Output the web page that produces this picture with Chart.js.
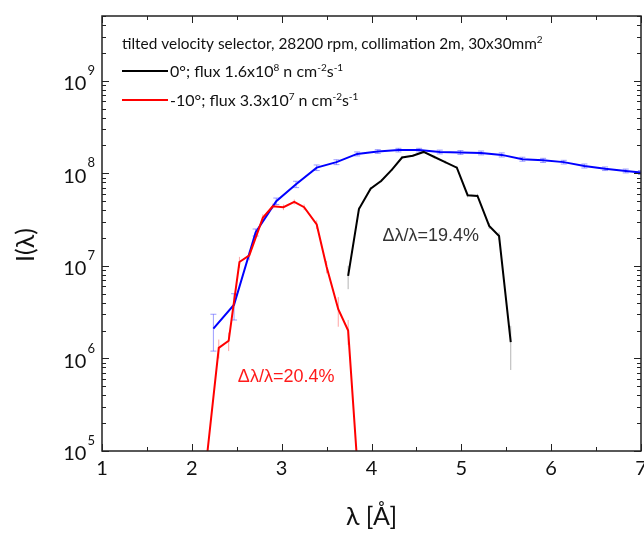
<!DOCTYPE html>
<html>
<head>
<meta charset="utf-8">
<script src="https://cdn.jsdelivr.net/npm/chart.js@4.4.1/dist/chart.umd.min.js"></script>
<style>
  html, body { margin: 0; padding: 0; background: #fff; }
</style>
</head>
<body>
<canvas id="spectrum" width="644" height="533"></canvas>
<script>
// wavelength spectrum, untilted envelope (blue)
const blueLambda = [2.24, 2.47, 2.71, 2.94, 3.16, 3.39, 3.61, 3.84, 4.07, 4.30, 4.53, 4.76, 4.99, 5.22, 5.45, 5.68, 5.91, 6.14, 6.37, 6.60, 6.83, 7.00];
const blueI      = [2.1e6, 3.8e6, 2.3e7, 5.0e7, 7.6e7, 1.15e8, 1.32e8, 1.62e8, 1.72e8, 1.78e8, 1.78e8, 1.70e8, 1.68e8, 1.66e8, 1.58e8, 1.42e8, 1.38e8, 1.32e8, 1.20e8, 1.12e8, 1.06e8, 1.02e8];
const blueErr    = [0.9e6, 1.2e6, 2e6, 4e6, 6e6, 8e6, 8e6, 8e6, 8e6, 8e6, 8e6, 8e6, 8e6, 8e6, 8e6, 7e6, 7e6, 6e6, 6e6, 5e6, 5e6, 5e6];

// selector tilted by 0 degrees (black)
const blackLambda = [3.74, 3.86, 3.99, 4.11, 4.23, 4.34, 4.46, 4.58, 4.70, 4.82, 4.95, 5.07, 5.18, 5.31, 5.42, 5.55];
const blackI      = [7.8e6, 4.1e7, 6.8e7, 8.3e7, 1.1e8, 1.48e8, 1.55e8, 1.7e8, 1.5e8, 1.32e8, 1.15e8, 5.8e7, 5.7e7, 2.7e7, 2.1e7, 1.5e6];
const blackErr    = [2.2e6, 2e6, 3e6, 3e6, 4e6, 5e6, 5e6, 5e6, 5e6, 5e6, 5e6, 3e6, 3e6, 2e6, 2e6, 0.75e6];

// selector tilted by -10 degrees (red)
const redLambda = [2.13, 2.30, 2.41, 2.53, 2.64, 2.79, 2.90, 3.02, 3.14, 3.25, 3.39, 3.50, 3.63, 3.74, 3.86];
const redI      = [4e4, 1.3e6, 1.55e6, 1.1e7, 1.3e7, 3.3e7, 4.4e7, 4.3e7, 4.9e7, 4.3e7, 2.8e7, 9.8e6, 3.4e6, 2.0e6, 4e4];
const redErr    = [0, 0.3e6, 0.35e6, 1.5e6, 1.5e6, 3e6, 3e6, 3e6, 3e6, 3e6, 3e6, 1.5e6, 1.2e6, 0.6e6, 0];

const xTickValues = [1, 2, 3, 4, 5, 6, 7];
const yExponents  = [5, 6, 7, 8, 9];

const legendTitle = ['tilted velocity selector, 28200 rpm, collimation 2m, 30x30mm', {sup: '2'}];
const legendBlack = ['0°; flux 1.6x10', {sup: '8'}, ' n cm', {sup: '-2'}, 's', {sup: '-1'}];
const legendRed   = ['-10°; flux 3.3x10', {sup: '7'}, ' n cm', {sup: '-2'}, 's', {sup: '-1'}];
const widthBlack = 'Δλ/λ=19.4%';
const widthRed   = 'Δλ/λ=20.4%';

const CAL = 'Lato, "Open Sans", sans-serif';
const ARIAL = '"Liberation Sans", Arial, sans-serif';

function toPoints(xs, ys) {
    return xs.map((x, i) => ({x: x, y: ys[i]}));
}

// text with superscript pieces, left aligned from x on baseline y
function drawRich(ctx, parts, x, y, size) {
    parts.forEach(p => {
        const sup = typeof p !== 'string';
        const t = sup ? p.sup : p;
        ctx.font = (sup ? Math.round(size * 0.62) : size) + 'px ' + CAL;
        ctx.fillText(t, x, sup ? y - size * 0.4 : y);
        x += ctx.measureText(t).width;
    });
}

// vertical error bars with small caps
const errorBars = {
    id: 'errorBars',
    beforeDatasetsDraw(chart) {
        const {ctx, chartArea: a, scales: {x, y}} = chart;
        ctx.save();
        ctx.beginPath();
        ctx.rect(a.left, a.top, a.right - a.left, a.bottom - a.top);
        ctx.clip();
        chart.data.datasets.forEach(ds => {
            if (!ds.errors) return;
            ctx.strokeStyle = ds.errColor;
            ctx.lineWidth = 1;
            ds.data.forEach((p, i) => {
                const e = ds.errors[i];
                if (!e) return;
                const px = x.getPixelForValue(p.x);
                const lo = Math.max(p.y - e, 1e4);
                const y1 = y.getPixelForValue(p.y + e);
                const y2 = y.getPixelForValue(lo);
                ctx.beginPath();
                ctx.moveTo(px, y1); ctx.lineTo(px, y2);
                if (ds.errCap) {
                    ctx.moveTo(px - ds.errCap, y1); ctx.lineTo(px + ds.errCap, y1);
                    ctx.moveTo(px - ds.errCap, y2); ctx.lineTo(px + ds.errCap, y2);
                }
                ctx.stroke();
            });
        });
        ctx.restore();
    }
};

// box frame, inward ticks, decade labels, legend and annotations
const frame = {
    id: 'frame',
    afterDraw(chart) {
        const {ctx, chartArea: a, scales: {x, y}} = chart;
        ctx.save();
        ctx.strokeStyle = '#222';
        ctx.lineWidth = 1.5;
        ctx.strokeRect(a.left, a.top, a.right - a.left, a.bottom - a.top);

        ctx.beginPath();
        for (let v = xTickValues[0]; v <= xTickValues[xTickValues.length - 1]; v += 0.5) {
            const px = Math.round(x.getPixelForValue(v)) + 0.5;
            const len = Number.isInteger(v) ? 7 : 4;
            ctx.moveTo(px, a.bottom); ctx.lineTo(px, a.bottom - len);
            ctx.moveTo(px, a.top); ctx.lineTo(px, a.top + len);
        }
        for (let e = 5; e <= 9; e++) {
            for (let m = 1; m <= 9; m++) {
                const v = m * Math.pow(10, e);
                if (v > y.max) break;
                const py = Math.round(y.getPixelForValue(v)) + 0.5;
                const len = m === 1 ? 7 : 4;
                ctx.moveTo(a.left, py); ctx.lineTo(a.left + len, py);
                ctx.moveTo(a.right, py); ctx.lineTo(a.right - len, py);
            }
        }
        ctx.lineWidth = 1;
        ctx.stroke();

        // y labels 10^n
        ctx.fillStyle = '#111';
        ctx.textBaseline = 'middle';
        yExponents.forEach(e => {
            const py = y.getPixelForValue(Math.pow(10, e));
            ctx.font = '13px ' + CAL;
            ctx.textAlign = 'left';
            const ew = ctx.measureText(String(e)).width;
            ctx.fillText(String(e), a.left - 7 - ew, py - 10);
            ctx.font = '20px ' + CAL;
            ctx.textAlign = 'right';
            ctx.fillText('10', a.left - 8 - ew, py + 3);
        });

        // y title
        ctx.save();
        ctx.translate(26, 245);
        ctx.rotate(-Math.PI / 2);
        ctx.textAlign = 'center';
        ctx.font = '25px ' + CAL;
        ctx.fillText('I(λ)', 0, 0);
        ctx.restore();

        // legend
        ctx.textAlign = 'left';
        ctx.textBaseline = 'alphabetic';
        ctx.fillStyle = '#111';
        drawRich(ctx, legendTitle, 122, 49, 15.4);
        ctx.lineWidth = 2;
        ctx.strokeStyle = '#000';
        ctx.beginPath(); ctx.moveTo(122, 71); ctx.lineTo(168, 71); ctx.stroke();
        drawRich(ctx, legendBlack, 170, 77, 16);
        ctx.strokeStyle = '#ff0000';
        ctx.beginPath(); ctx.moveTo(122, 100); ctx.lineTo(168, 100); ctx.stroke();
        drawRich(ctx, legendRed, 170, 106, 16);

        // resolution labels
        ctx.textAlign = 'center';
        ctx.textBaseline = 'middle';
        ctx.font = '18px ' + ARIAL;
        ctx.fillStyle = '#333';
        ctx.fillText(widthBlack, x.getPixelForValue(4.66), y.getPixelForValue(2.1e7));
        ctx.fillStyle = '#ff1a1a';
        ctx.fillText(widthRed, x.getPixelForValue(3.05), y.getPixelForValue(6.3e5));
        ctx.restore();
    }
};

const ctx = document.getElementById('spectrum').getContext('2d');
new Chart(ctx, {
    type: 'line',
    data: {
        datasets: [
            {
                label: '-10°',
                data: toPoints(redLambda, redI),
                errors: redErr,
                errColor: 'rgba(255,90,90,0.55)',
                errCap: 0,
                borderColor: '#ff0000'
            },
            {
                label: '0°',
                data: toPoints(blackLambda, blackI),
                errors: blackErr,
                errColor: 'rgba(120,120,120,0.55)',
                errCap: 0,
                borderColor: '#000000'
            },
            {
                label: 'untilted',
                data: toPoints(blueLambda, blueI),
                errors: blueErr,
                errColor: 'rgba(90,90,255,0.6)',
                errCap: 3,
                borderColor: '#0000ff'
            }
        ]
    },
    options: {
        responsive: false,
        devicePixelRatio: 1,
        animation: false,
        layout: { padding: { top: 16, right: 3, left: 0, bottom: 0 } },
        elements: {
            point: { radius: 0 },
            line: { borderWidth: 2, tension: 0 }
        },
        plugins: {
            legend: { display: false },
            tooltip: { enabled: false }
        },
        scales: {
            x: {
                type: 'linear',
                min: 1,
                max: 7,
                grid: { display: false, drawTicks: false },
                border: { display: false },
                ticks: {
                    stepSize: 1,
                    padding: 6,
                    maxRotation: 0,
                    color: '#111',
                    font: { family: CAL, size: 20 }
                },
                title: {
                    display: true,
                    text: 'λ [Å]',
                    color: '#111',
                    font: { family: CAL, size: 25 },
                    padding: { top: 0, bottom: 1 }
                },
                afterFit(s) {
                    s.height = 82;
                    s.paddingLeft = 0;
                    s.paddingRight = 0;
                }
            },
            y: {
                type: 'logarithmic',
                min: 1e5,
                max: 5e9,
                grid: { display: false, drawTicks: false },
                border: { display: false },
                ticks: { display: false },
                afterFit(s) {
                    s.width = 102;
                }
            }
        }
    },
    plugins: [errorBars, frame]
});
</script>
</body>
</html>
